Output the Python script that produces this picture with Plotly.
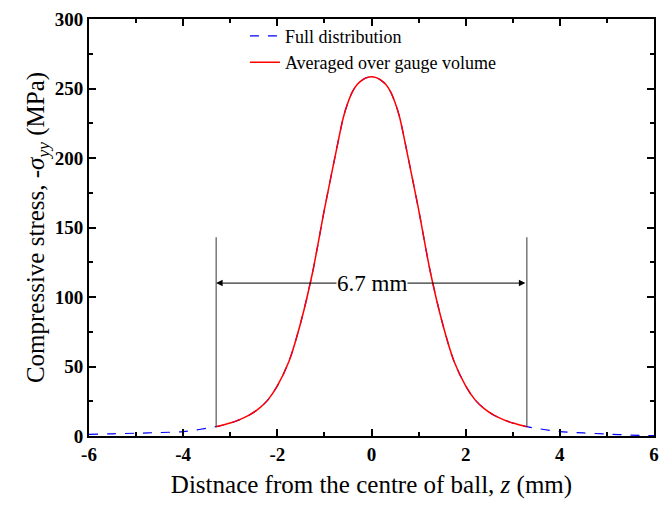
import plotly.graph_objects as go

# Full distribution (blue dashed)
z_full = [-6, -5.5, -5, -4.5, -4, -3.3, -3.0, -2.8, -2.6, -2.4, -2.2, -2.0, -1.75, -1.5, -1.25, -1.0, -0.75, -0.6, -0.5, -0.4, -0.3, -0.2, -0.1, 0,
          0.1, 0.2, 0.3, 0.4, 0.5, 0.6, 0.75, 1.0, 1.25, 1.5, 1.75, 2.0, 2.2, 2.4, 2.6, 2.8, 3.0, 3.3, 4, 4.5, 5, 5.5, 6]
s_full = [1.2, 1.6, 2.0, 2.5, 3.2, 6.7, 9.3, 11.8, 15, 19.5, 26, 36, 54, 82, 118, 163, 205, 229, 240, 248, 253, 256, 257.8, 258.5,
          257.8, 256, 253, 248, 240, 229, 205, 163, 118, 82, 54, 36, 26, 19.5, 15, 11.8, 9.3, 6.7, 3.2, 2.2, 1.4, 0.7, 0.2]

# Averaged over gauge volume (red solid)
z_avg = [-3.3, -3.0, -2.8, -2.6, -2.4, -2.2, -2.0, -1.75, -1.5, -1.25, -1.0, -0.75, -0.6, -0.5, -0.4, -0.3, -0.2, -0.1, 0,
         0.1, 0.2, 0.3, 0.4, 0.5, 0.6, 0.75, 1.0, 1.25, 1.5, 1.75, 2.0, 2.2, 2.4, 2.6, 2.8, 3.0, 3.3]
s_avg = [6.7, 9.3, 11.8, 15, 19.5, 26, 36, 54, 82, 118, 163, 205, 229, 240, 248, 253, 256, 257.8, 258.5,
         257.8, 256, 253, 248, 240, 229, 205, 163, 118, 82, 54, 36, 26, 19.5, 15, 11.8, 9.3, 6.7]

x_tickvals = [-6, -4, -2, 0, 2, 4, 6]
x_ticktext = ["-6", "-4", "-2", "0", "2", "4", "6"]

gauge_left, gauge_right = -3.3, 3.3
gauge_top = 143
arrow_y = 110
label = "6.7 mm"

font_fam = "Liberation Serif, Times New Roman, serif"

fig = go.Figure()
fig.add_trace(go.Scatter(x=z_full, y=s_full, mode="lines", name="Full distribution",
                         line=dict(color="#0000ff", width=1.2, dash="dash", shape="spline", smoothing=0.8)))
fig.add_trace(go.Scatter(x=z_avg, y=s_avg, mode="lines", name="Averaged over gauge volume",
                         line=dict(color="#ff0000", width=1.5, shape="spline", smoothing=0.8)))

for gx, gy in [(gauge_left, s_avg[0]), (gauge_right, s_avg[-1])]:
    fig.add_shape(type="line", x0=gx, x1=gx, y0=gy, y1=gauge_top, xref="x", yref="y",
                  line=dict(color="#333333", width=1))

fig.add_annotation(x=gauge_left, y=arrow_y, ax=gauge_right, ay=arrow_y, xref="x", yref="y",
                   axref="x", ayref="y", text="", showarrow=True, arrowhead=2, arrowsize=1.3,
                   arrowwidth=1, arrowcolor="black", arrowside="end+start")
fig.add_annotation(x=0, y=arrow_y, text=label, showarrow=False, bgcolor="white",
                   font=dict(family=font_fam, size=23, color="black"), borderpad=0)

axis_common = dict(showline=True, linecolor="black", linewidth=2, mirror="allticks",
                   ticks="inside", ticklen=7, tickwidth=1.5, tickcolor="black",
                   showgrid=False, zeroline=False,
                   tickfont=dict(family=font_fam, size=19, color="black", weight="bold"))

fig.update_xaxes(range=[-6, 6], tickvals=x_tickvals, ticktext=x_ticktext,
                 minor=dict(ticks="inside", ticklen=4, tickwidth=1.5, tickcolor="black", dtick=1),
                 title=dict(text="Distnace from the centre of ball, <i>z</i> (mm)",
                            font=dict(family=font_fam, size=25, color="black"), standoff=12),
                 **axis_common)
fig.update_yaxes(range=[0, 300], dtick=50,
                 minor=dict(ticks="inside", ticklen=4, tickwidth=1.5, tickcolor="black", dtick=25),
                 title=dict(text="Compressive stress, -<i>σ</i><sub><i>yy</i></sub> (MPa)",
                            font=dict(family=font_fam, size=25, color="black"), standoff=3),
                 **axis_common)

fig.update_layout(width=668, height=506, margin=dict(l=89, r=9, t=16, b=70),
                  plot_bgcolor="white", paper_bgcolor="white",
                  legend=dict(x=0.276, y=1.003, xanchor="left", yanchor="top",
                              bgcolor="rgba(0,0,0,0)", borderwidth=0,
                              font=dict(family=font_fam, size=18, color="black"),
                              tracegroupgap=0, itemwidth=30))

fig.write_html("out.html")
